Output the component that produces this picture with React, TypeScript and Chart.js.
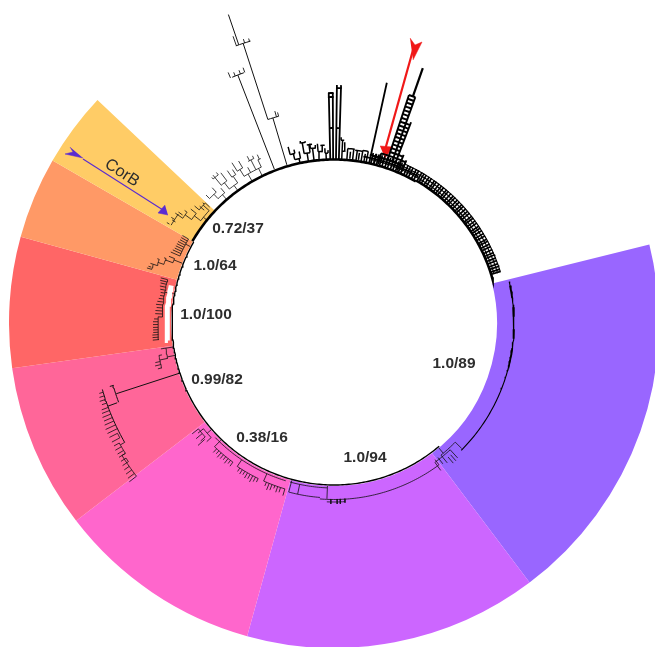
import React, { useEffect, useRef } from "react";
import { Chart, registerables } from "chart.js";

Chart.register(...registerables);

// ---- clade wedges: clockwise from north, degrees ----
const wedgeStart = 76;
const wedgeSpans = [67, 52.5, 37, 29.5, 23.4, 14.6, 13.3, 122.7];
const wedgeColors = ["#9966FF", "#CC66FF", "#FF66CC", "#FF6699", "#FF6666", "#FF9966", "#FFCC66", "rgba(0,0,0,0)"];
const wedgeInnerRadius = 163;
const wedgeGapArcs = [[167, 264, 283]];

// ---- support labels: [text, x, y] ----
const supportLabels: [string, number, number][] = [
  ["0.72/37", -96, 94],
  ["1.0/64", -119, 57],
  ["1.0/100", -128, 8],
  ["0.99/82", -117, -57],
  ["0.38/16", -72, -115],
  ["1.0/94", 31, -135],
  ["1.0/89", 120, -41],
];

// ---- arcs are [radius, fromAngle, toAngle]; branches are [angle, fromRadius, toRadius] ----
const baseArcsThick = [[163.5, 300, 390], [164.5, 30, 74.6]];
const baseArcsThin = [[162, 139.5, 300]];

const comb = [13, 14.1, 15, 16.1, 17, 18.1, 19, 20.1, 21, 22, 23.1, 24, 25.2, 26.1, 27, 28.2, 29.1, 30.3, 31.1, 32, 33.1, 34, 35.2, 36, 37.1, 38.1, 39, 40.2, 41, 42.1, 43.2, 44, 45.1, 46, 47.2, 48, 49.1, 50.1, 51, 52.2, 53, 54.1, 55, 56.2, 57, 58, 59.1, 60, 61.2, 62, 63.1, 64, 65.1, 66.2, 67, 68.1, 69, 70.1, 71, 72, 72.8];
const combArcs = [[167.5, 13, 73], [171, 13, 73], [174, 24, 72.8]];

const ladderRails = [[18.2, 172, 240], [19.8, 172, 240], [21, 172, 215], [15.5, 165, 176], [14, 165, 174], [22.5, 165, 182], [24, 165, 178]];
const ladderTop = [[19.2, 240, 270]];
const ladderRungs = [[176, 15.5, 24], [180, 18.2, 22.5], [184, 18.2, 21], [188, 18.2, 21], [192, 18.2, 21], [196, 18.2, 21], [200, 18.2, 21], [204, 18.2, 21], [208, 18.2, 21], [212, 18.2, 21], [216, 18.2, 19.8], [220, 18.2, 19.8], [224, 18.2, 19.8], [228, 18.2, 19.8], [232, 18.2, 19.8], [236, 18.2, 19.8], [240, 18.2, 19.8]];
const ladderBlocks = [[172, 12, 24], [169, 10, 30]];

const thickBranches = [[358.7, 163, 226], [359.7, 163, 226], [0.7, 163, 235], [1.7, 163, 235], [12.4, 163, 246]];
const thickArcs = [[226, 358.5, 359.9], [230, 358.5, 359.9], [235, 0.5, 1.9], [195, 358.7, 359.7], [195, 0.7, 1.7]];
const thickStubs = [[358.7, 226, 230], [359.7, 226, 230], [0.7, 235, 238], [1.7, 235, 238]];

const longBranches = [[338.8, 165, 266], [343.4, 165, 214], [342, 214, 294], [341.1, 294, 326], [252, 162, 229], [249.8, 231, 241], [254.2, 229, 233]];
const longArcs = [[214, 342, 345], [266, 337.5, 340.2], [294, 340.5, 343.5], [229.5, 249.8, 254.3], [241, 240.3, 254]];
const longTips = [[345, 214, 218], [344.4, 214, 220], [337.1, 266, 272], [338.2, 266, 270], [339.4, 266, 270], [340.4, 266, 271], [343.3, 294, 297], [342.3, 294, 298], [340.6, 294, 304]];

const topBranches = [
  [348, 163, 168], [346.5, 168, 174], [345.4, 174, 182], [347, 174, 178], [348.5, 168, 175],
  [351, 163, 172], [350, 172, 183], [352, 172, 180], [353, 163, 176], [352.3, 176, 181], [354, 176, 179], [349.5, 183, 185], [351, 183, 184],
  [355, 163, 172], [354.7, 172, 180], [356.2, 172, 178], [357.3, 163, 170], [357, 170, 175], [358, 170, 173],
  [2.7, 163, 183], [3.4, 172, 181], [2.2, 183, 186], [4.5, 163, 175], [5.5, 165, 172], [6.5, 163, 175], [7.7, 163, 174], [8.5, 165, 172], [9.5, 163, 175], [10.5, 163, 172], [11.3, 163, 175],
];
const topArcs = [[168, 346.5, 348.5], [174, 345.4, 347], [172, 350, 352], [176, 352.3, 354], [183, 349.5, 351], [180, 351.3, 353], [172, 354.7, 356.2], [178, 355.6, 357], [170, 357, 358], [172, 2.7, 3.4], [183, 2.2, 3.2], [175, 4.5, 6.8], [174, 7, 9.5], [175, 9.5, 11.3]];

const upperLeftBranches = [
  [330, 163, 172], [334, 163, 172], [328.5, 172, 180], [331, 172, 178], [333, 172, 183], [335, 172, 180], [327.5, 180, 190], [329.5, 180, 188], [332.5, 183, 188], [334, 183, 186], [335.5, 180, 185],
  [324, 163, 170], [322, 170, 178], [325.5, 170, 178], [320.7, 178, 191], [323, 178, 188], [325, 178, 186], [326.5, 178, 184], [320, 188, 190], [322, 188, 191],
  [319, 163, 170], [317, 170, 176], [315, 176, 181], [318, 176, 182], [320, 170, 176],
];
const upperLeftArcs = [[172, 328.5, 335], [180, 327.5, 329.5], [183, 332, 334], [180, 335, 336], [170, 322, 325.5], [178, 320.7, 323], [178, 325, 326.5], [188, 320, 322], [170, 317, 320], [176, 315, 318]];

const yellowBranches = [[309, 163, 168], [312, 168, 176], [311, 172, 178], [307.5, 168, 176], [308.5, 176, 183], [306, 176, 184], [307, 184, 187], [304.7, 184, 193], [305.5, 186, 191], [303, 190, 194], [301, 192, 195], [302.5, 188, 192], [310, 176, 182], [312.5, 176, 178], [313, 170, 176]];
const yellowArcs = [[168, 307.5, 312], [176, 306, 308.5], [184, 304.7, 307], [190, 301, 305], [176, 310, 313]];

const orangeBranches = [[298, 163, 168], [300, 168, 175], [299.2, 168, 175], [298.4, 168, 175], [297.6, 168, 176], [296.8, 168, 176], [296, 168, 176], [295.2, 168, 176], [294.4, 168, 177], [293.5, 168, 178], [291.5, 163, 172], [290.5, 172, 180], [292, 172, 178], [289, 180, 186], [291, 180, 182], [288, 186, 190], [290, 186, 188], [286.4, 190, 195], [288, 190, 193], [287, 191, 194]];
const orangeArcs = [[168, 293.5, 300], [172, 290.5, 292], [180, 289, 291], [186, 288, 290], [190, 286.4, 288]];

const redBranches = [[280.3, 162, 172], [284.6, 172, 179], [283.8, 172, 179], [283, 172, 178], [282, 172, 178], [281, 172, 177], [280, 172, 176], [279, 172, 176], [278, 172, 177], [277, 172, 178], [276, 172, 179], [275, 172, 178], [274, 172, 179], [273, 172, 179], [272, 172, 176], [271.3, 176, 180], [270.4, 176, 181], [269.5, 176, 181], [268.6, 176, 181], [267.8, 176, 181], [267, 176, 181], [266.2, 176, 182], [265.4, 176, 182], [264.6, 176, 182]];
const redArcs = [[172, 272, 284.6], [176, 264.6, 272]];

const rootBranches = [[261.5, 162, 170], [258.5, 162, 170], [258, 170, 178], [261.5, 170, 175], [255.4, 178, 182], [256.5, 178, 184], [259.5, 175, 178], [257.5, 178, 183]];
const rootArcs = [[170, 258, 261.5], [178, 255.4, 259.5]];

const streakBranches = [[253.3, 241, 245], [252.4, 241, 246], [251.5, 241, 247], [250.6, 241, 246], [249.5, 241, 248], [248.7, 241, 249], [247.8, 241, 250], [246.9, 241, 250], [246, 241, 251], [245, 241, 252], [244, 241, 252], [243, 243, 252], [241.8, 243, 252], [240.8, 246, 252], [239.8, 246, 253], [238.8, 246, 253], [238, 246, 253.5], [237, 248, 254], [236, 248, 255], [235, 250, 256], [234, 250, 257], [233, 250, 258], [232.2, 250, 259], [240.3, 241, 246], [238, 246, 250]];
const streakArcs = [[246, 238, 240.8], [250, 232.2, 238], [243, 241.8, 243], [248, 236, 237]];

const pinkBranches = [[229, 163, 168], [227, 168, 174], [231, 168, 175], [232, 172, 180], [230, 172, 180], [228.5, 172, 178], [228, 174, 183], [224, 163, 172], [223, 172, 177], [222, 172, 176], [221, 172, 178], [220, 172, 177], [219, 172, 176], [218, 172, 178], [217, 172, 176], [216, 172, 177], [214, 165, 173], [213, 173, 177], [212, 173, 178], [211, 173, 177], [210, 173, 179], [209, 173, 178], [208, 173, 180], [207, 173, 178], [206, 173, 177], [204, 165, 173], [203, 173, 177], [202, 173, 180], [201, 173, 179], [200, 173, 176], [199, 173, 179], [198, 173, 178], [196.5, 173, 180]];
const pinkArcs = [[168, 227, 231], [172, 228.5, 232], [172, 216, 224], [173, 206, 214], [173, 196.5, 204], [165, 197, 226]];

const violetBranches = [[195, 163, 175], [192, 165, 175], [182.3, 163, 176], [181, 176, 181], [179, 176, 181], [178, 176, 181], [176.5, 176, 180], [140, 163, 170], [141, 170, 180], [142.3, 170, 178], [143.5, 170, 176.5], [144.1, 172, 182], [139.6, 176, 184], [138.5, 176, 184], [137.5, 172, 183], [134.5, 170, 179]];
const violetArcs = [[176.5, 143.6, 184.6], [175, 184.6, 195], [165, 182.4, 195.5], [179, 176.5, 182.3], [170, 134.5, 141], [172, 137.5, 144]];

const purpleArcs = [[180, 76.7, 135]];
const purpleHeavyArcs = [[180, 78, 82], [180, 85, 88], [180, 92, 95], [180, 98, 103]];

// ---- arrows, in chart units ----
const redShaft = [[79, 273], [51, 173]];
const redTail = [[76, 285], [81, 278], [88, 281], [79, 263]];
const redHead = [[46, 177], [59, 176], [51, 165]];
const corbShaft = [[-251, 164], [-171, 113]];
const corbTail = [[-264, 176], [-261, 171], [-269, 169], [-251, 165]];
const corbHead = [[-169, 118], [-176, 110], [-166, 108]];

const corbLabel = { text: "CorB", x: -212, y: 150, angle: 33 };

type Pt = { x: number; y: number };
const GAP: Pt = { x: NaN, y: NaN };

function polar(angle: number, radius: number): Pt {
  const a = (angle * Math.PI) / 180;
  return { x: radius * Math.sin(a), y: radius * Math.cos(a) };
}
function arcsToPoints(arcs: number[][]): Pt[] {
  const out: Pt[] = [];
  for (const [r, a0, a1] of arcs) {
    const n = Math.max(1, Math.ceil((a1 - a0) / 0.75));
    for (let i = 0; i <= n; i++) out.push(polar(a0 + ((a1 - a0) * i) / n, r));
    out.push(GAP);
  }
  return out;
}
function branchesToPoints(branches: number[][]): Pt[] {
  const out: Pt[] = [];
  for (const [a, r0, r1] of branches) out.push(polar(a, r0), polar(a, r1), GAP);
  return out;
}
const xy = (pairs: number[][]): Pt[] => pairs.map(([x, y]) => ({ x, y }));

function lineSet(data: Pt[], color: string, width: number, extra: object = {}) {
  return { data, borderColor: color, backgroundColor: color, borderWidth: width, showLine: true, pointRadius: 0, spanGaps: false, fill: false, tension: 0, ...extra };
}

const textPlugin = {
  id: "treeLabels",
  afterDatasetsDraw(chart: any) {
    const { ctx, scales } = chart;
    ctx.save();
    ctx.textAlign = "center";
    ctx.textBaseline = "middle";
    ctx.fillStyle = "#2e2e2e";
    ctx.font = "bold 15.5px 'Liberation Sans', Arial, sans-serif";
    for (const [t, x, y] of supportLabels) ctx.fillText(t, scales.x.getPixelForValue(x), scales.y.getPixelForValue(y));
    ctx.translate(scales.x.getPixelForValue(corbLabel.x), scales.y.getPixelForValue(corbLabel.y));
    ctx.rotate((corbLabel.angle * Math.PI) / 180);
    ctx.font = "16.5px 'Liberation Sans', Arial, sans-serif";
    ctx.fillText(corbLabel.text, 0, 0);
    ctx.restore();
  },
};

export default function App() {
  const ringRef = useRef<HTMLCanvasElement>(null);
  const treeRef = useRef<HTMLCanvasElement>(null);

  useEffect(() => {
    const ring = new Chart(ringRef.current!, {
      type: "doughnut",
      data: {
        labels: wedgeColors.map((_, i) => `clade ${i + 1}`),
        datasets: [{ data: wedgeSpans, backgroundColor: wedgeColors, borderWidth: 0, hoverOffset: 0 }],
      },
      options: {
        responsive: false,
        animation: false,
        rotation: wedgeStart,
        cutout: wedgeInnerRadius,
        layout: { padding: 0 },
        plugins: { legend: { display: false }, tooltip: { enabled: false } },
      },
    });

    const thin = "#111111";
    const tree = new Chart(treeRef.current!, {
      type: "scatter",
      data: {
        datasets: [
          lineSet(arcsToPoints(wedgeGapArcs), "#fff", 5),
          lineSet(arcsToPoints(baseArcsThick), "#000", 2.6),
          lineSet(arcsToPoints(baseArcsThin), "#000", 1.4),
          lineSet(branchesToPoints(comb.map((a) => [a, 164, 174.5])), "#000", 1.7),
          lineSet(arcsToPoints(combArcs), "#000", 1.1),
          lineSet(branchesToPoints(ladderRails), "#000", 1.9),
          lineSet(branchesToPoints(ladderTop), "#000", 2.2),
          lineSet(arcsToPoints(ladderRungs), "#000", 2),
          lineSet(arcsToPoints(ladderBlocks), "#000", 1.8),
          lineSet(branchesToPoints(thickBranches), "#000", 1.8),
          lineSet(branchesToPoints(thickStubs), "#000", 1.8),
          lineSet(arcsToPoints(thickArcs), "#000", 1.8),
          lineSet(branchesToPoints(longBranches), "#111", 1),
          lineSet(arcsToPoints(longArcs), "#111", 1),
          lineSet(branchesToPoints(longTips), "#111", 0.9),
          lineSet(branchesToPoints(topBranches), "#000", 1.5),
          lineSet(arcsToPoints(topArcs), "#000", 1.5),
          ...[
            [upperLeftBranches, upperLeftArcs],
            [yellowBranches, yellowArcs],
            [orangeBranches, orangeArcs],
            [redBranches, redArcs],
            [rootBranches, rootArcs],
            [streakBranches, streakArcs],
            [pinkBranches, pinkArcs],
            [violetBranches, violetArcs],
          ].flatMap(([b, a]) => [lineSet(branchesToPoints(b), thin, 0.8), lineSet(arcsToPoints(a), thin, 0.8)]),
          lineSet(arcsToPoints(purpleArcs), "#000", 1.1),
          lineSet(arcsToPoints(purpleHeavyArcs), "#000", 1.8),
          lineSet(xy(redShaft), "#F01818", 2.2),
          lineSet(xy(redTail), "#F01818", 0.5, { fill: "shape" }),
          lineSet(xy(redHead), "#F01818", 0.5, { fill: "shape" }),
          lineSet(xy(corbShaft), "#5A2BD0", 1.1),
          lineSet(xy(corbTail), "#5A2BD0", 0.5, { fill: "shape" }),
          lineSet(xy(corbHead), "#5A2BD0", 0.5, { fill: "shape" }),
        ] as any,
      },
      options: {
        responsive: false,
        animation: false,
        layout: { padding: 0 },
        plugins: { legend: { display: false }, tooltip: { enabled: false } },
        scales: {
          x: { type: "linear", min: -334, max: 321, display: false },
          y: { type: "linear", min: -324, max: 323, display: false },
        },
      },
      plugins: [textPlugin],
    });

    return () => {
      ring.destroy();
      tree.destroy();
    };
  }, []);

  return (
    <div style={{ position: "absolute", left: 0, top: 0, width: 655, height: 647, overflow: "hidden", background: "#fff" }}>
      <canvas ref={ringRef} width={650} height={650} style={{ position: "absolute", left: 9, top: -2, width: 650, height: 650 }} />
      <canvas ref={treeRef} width={655} height={647} style={{ position: "absolute", left: 0, top: 0, width: 655, height: 647, filter: "blur(0.4px)" }} />
    </div>
  );
}
